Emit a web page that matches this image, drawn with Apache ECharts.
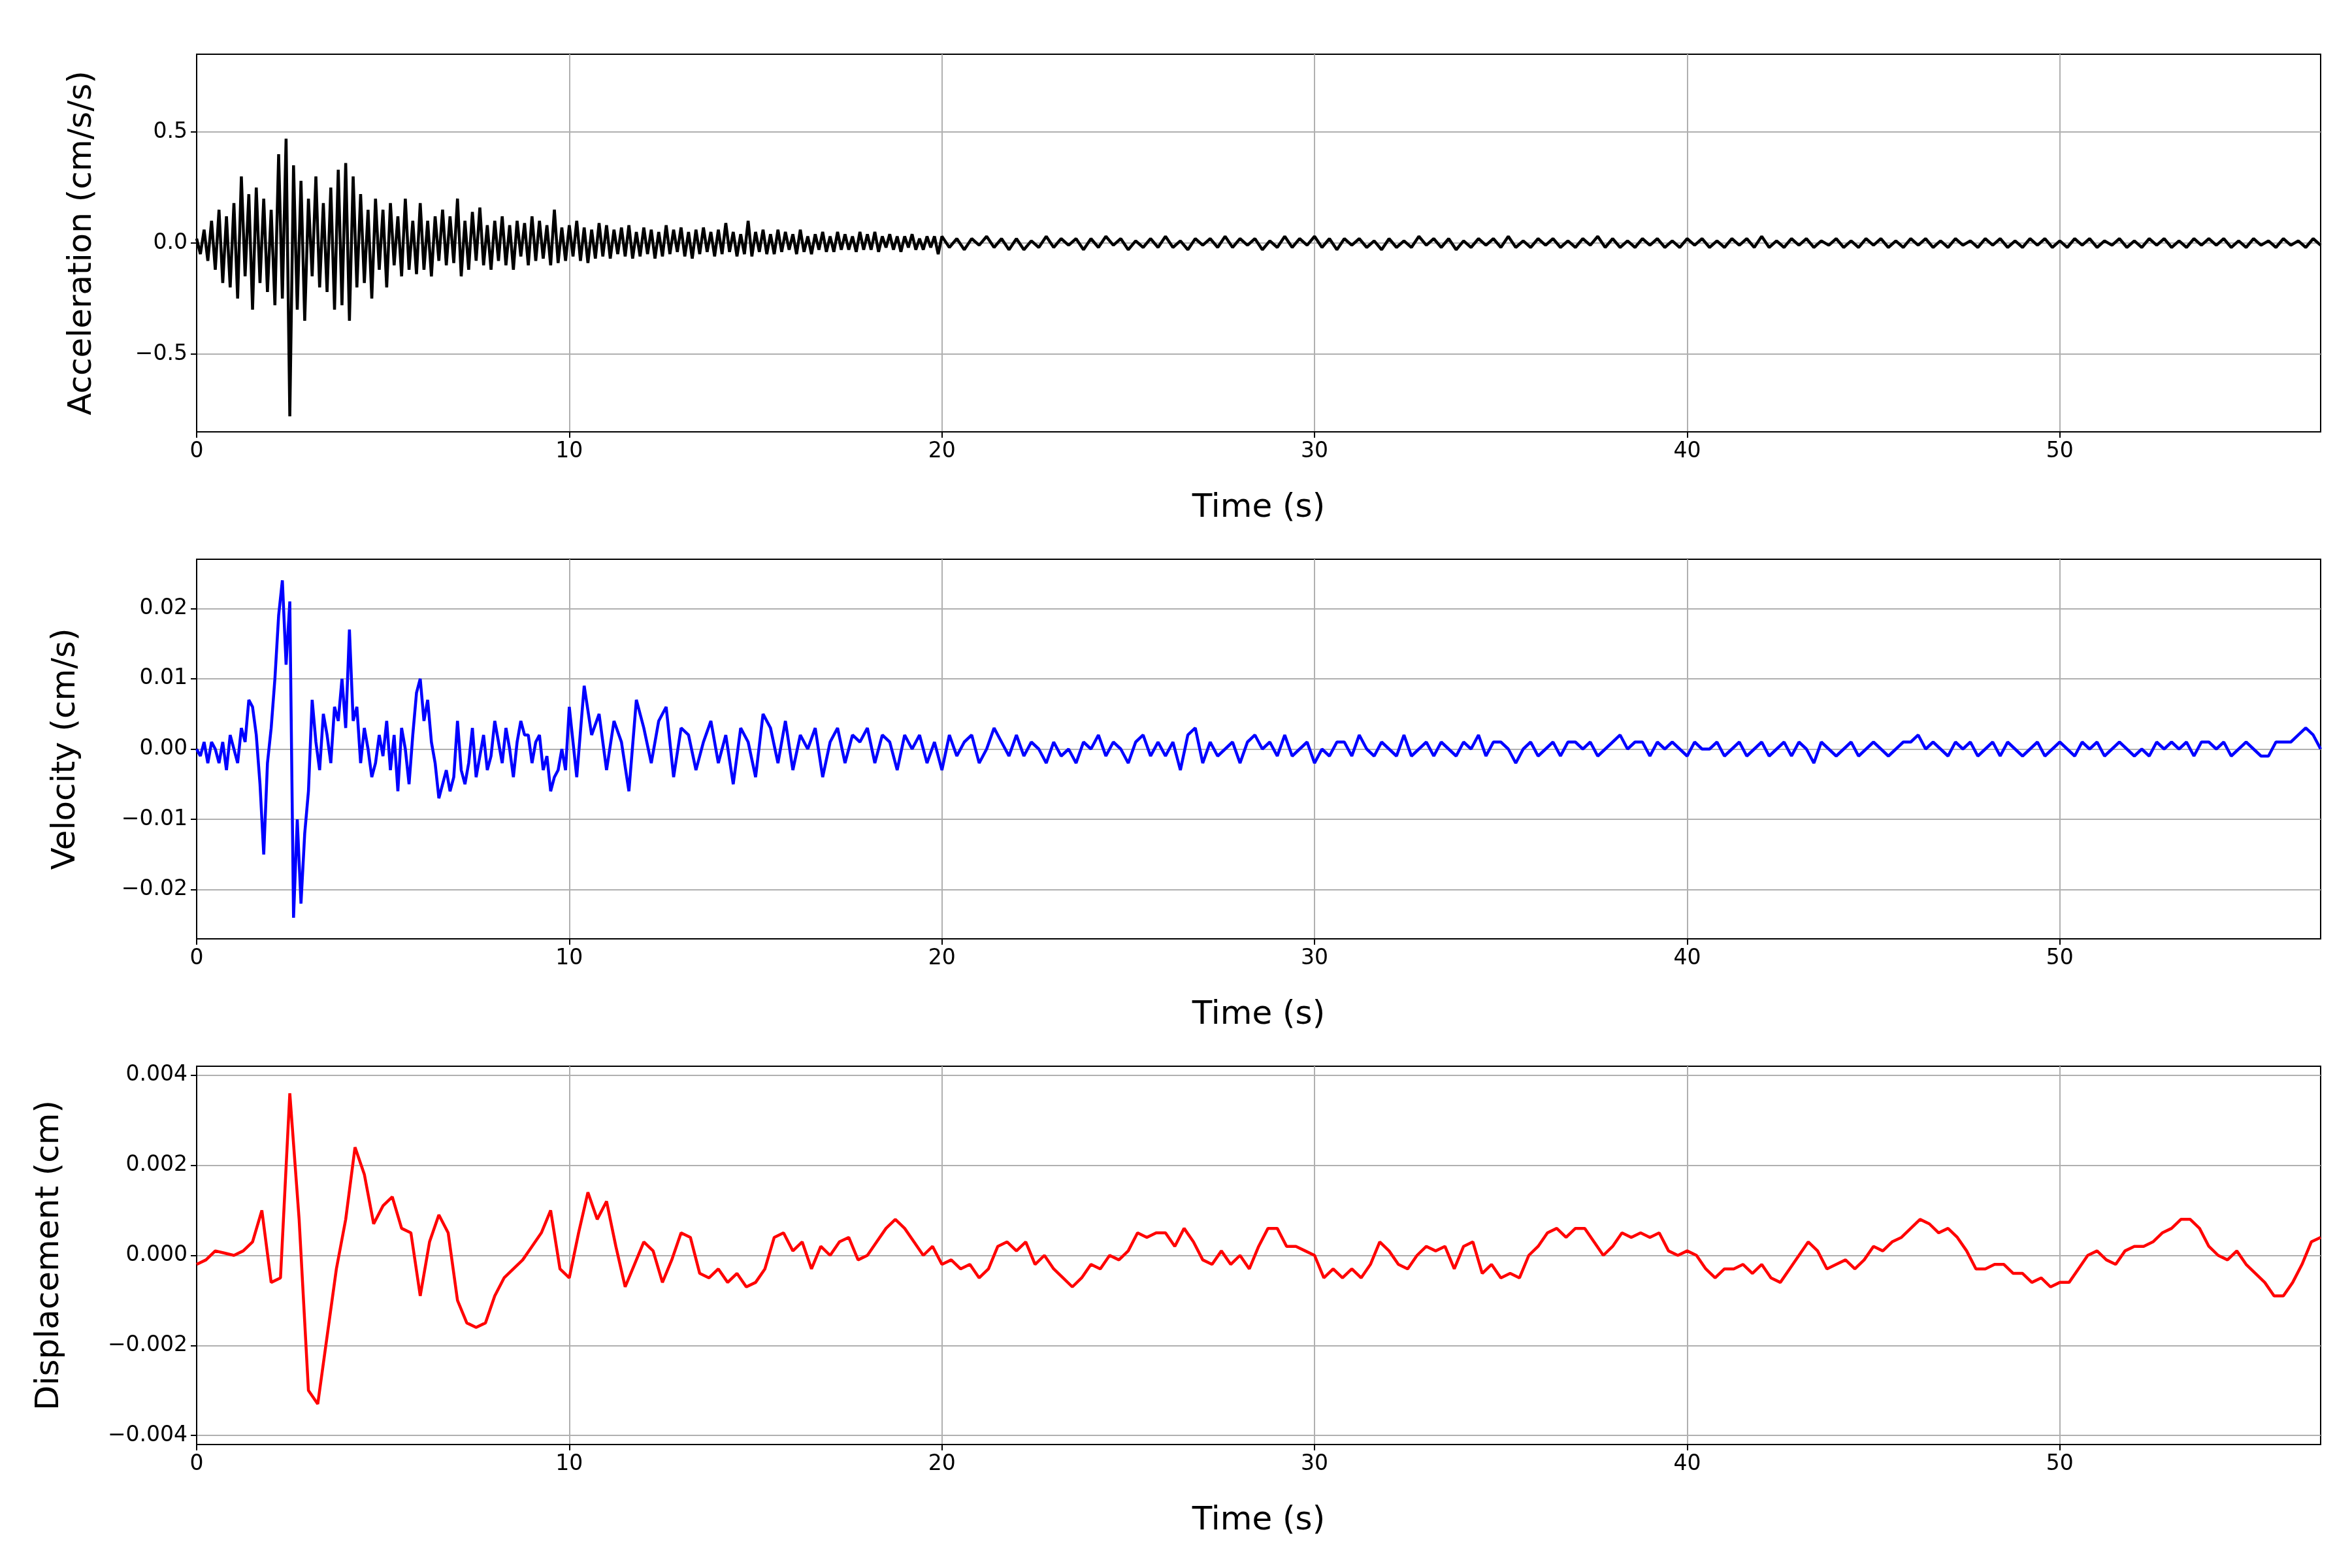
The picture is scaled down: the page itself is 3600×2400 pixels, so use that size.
<!DOCTYPE html>
<html>
<head>
<meta charset="utf-8">
<script src="https://cdn.jsdelivr.net/npm/echarts@6/dist/echarts.min.js"></script>
<style>html,body{margin:0;background:#fff}#main{width:3600px;height:2400px}</style>
</head>
<body>
<div id="main"></div>
<script>
// time axis
var tMax = 57;
var xTicks = [0, 10, 20, 30, 40, 50];

// acceleration (cm/s/s): 0-20 s every 0.1 s, then 20.2-57 s every 0.2 s
var accEarly = [
  0.02,-0.05,0.06,-0.08,0.1,-0.12,0.15,-0.18,0.12,-0.2, 0.18,-0.25,0.3,-0.15,0.22,-0.3,0.25,-0.18,0.2,-0.22,
  0.15,-0.28,0.4,-0.25,0.47,-0.78,0.35,-0.3,0.28,-0.35, 0.2,-0.15,0.3,-0.2,0.18,-0.22,0.25,-0.3,0.33,-0.28,
  0.36,-0.35,0.3,-0.2,0.22,-0.18,0.15,-0.25,0.2,-0.12, 0.15,-0.2,0.18,-0.1,0.12,-0.15,0.2,-0.12,0.1,-0.14,
  0.18,-0.12,0.1,-0.15,0.12,-0.08,0.15,-0.1,0.12,-0.09, 0.2,-0.15,0.1,-0.12,0.14,-0.08,0.16,-0.1,0.08,-0.12,
  0.1,-0.08,0.12,-0.1,0.08,-0.12,0.1,-0.06,0.09,-0.1, 0.12,-0.08,0.1,-0.07,0.08,-0.1,0.15,-0.09,0.07,-0.08,
  0.08,-0.06,0.1,-0.08,0.07,-0.09,0.06,-0.07,0.09,-0.06, 0.08,-0.07,0.06,-0.05,0.07,-0.06,0.08,-0.07,0.05,-0.06,
  0.07,-0.05,0.06,-0.07,0.05,-0.06,0.08,-0.05,0.06,-0.04, 0.07,-0.06,0.05,-0.07,0.06,-0.05,0.07,-0.04,0.05,-0.06,
  0.06,-0.05,0.09,-0.04,0.05,-0.06,0.04,-0.05,0.1,-0.06, 0.05,-0.04,0.06,-0.05,0.04,-0.05,0.06,-0.04,0.05,-0.03,
  0.04,-0.05,0.06,-0.04,0.03,-0.05,0.04,-0.03,0.05,-0.04, 0.03,-0.04,0.05,-0.03,0.04,-0.03,0.03,-0.04,0.05,-0.03,
  0.04,-0.03,0.05,-0.04,0.03,-0.02,0.04,-0.03,0.03,-0.04, 0.03,-0.02,0.04,-0.03,0.02,-0.03,0.03,-0.02,0.03,-0.05
];
var accLate = [
  0.03,-0.02,0.02,-0.03,0.02,-0.01,0.03,-0.02,0.02,-0.03, 0.02,-0.03,0.01,-0.02,0.03,-0.02,0.02,-0.01,0.02,-0.03,
  0.02,-0.02,0.03,-0.01,0.02,-0.03,0.01,-0.02,0.02,-0.02, 0.03,-0.02,0.01,-0.03,0.02,-0.01,0.02,-0.02,0.03,-0.02,
  0.02,-0.01,0.02,-0.03,0.01,-0.02,0.03,-0.02,0.02,-0.01, 0.03,-0.02,0.02,-0.03,0.02,-0.01,0.02,-0.02,0.01,-0.03,
  0.02,-0.02,0.01,-0.02,0.03,-0.01,0.02,-0.02,0.02,-0.03, 0.01,-0.02,0.02,-0.01,0.02,-0.02,0.03,-0.02,0.01,-0.02,
  0.02,-0.01,0.02,-0.02,0.01,-0.02,0.02,-0.01,0.03,-0.02, 0.02,-0.02,0.01,-0.02,0.02,-0.01,0.02,-0.02,0.01,-0.02,
  0.02,-0.01,0.02,-0.02,0.01,-0.02,0.02,-0.01,0.02,-0.02, 0.03,-0.02,0.01,-0.02,0.02,-0.01,0.02,-0.02,0.01,-0.01,
  0.02,-0.02,0.01,-0.02,0.02,-0.01,0.02,-0.02,0.01,-0.02, 0.02,-0.01,0.02,-0.02,0.01,-0.02,0.02,-0.01,0.01,-0.02,
  0.02,-0.01,0.02,-0.02,0.01,-0.02,0.02,-0.01,0.02,-0.02, 0.01,-0.02,0.02,-0.01,0.02,-0.02,0.01,-0.01,0.02,-0.02,
  0.01,-0.02,0.02,-0.01,0.02,-0.02,0.01,-0.02,0.02,-0.01, 0.02,-0.01,0.02,-0.02,0.01,-0.02,0.02,-0.01,0.01,-0.02,
  0.02,-0.01,0.01,-0.02,0.02,-0.01
];

// velocity (cm/s): 0-10 s every 0.1 s, then 10-57 s every 0.2 s
var velEarly = [
  0,-0.001,0.001,-0.002,0.001,0,-0.002,0.001,-0.003,0.002,
  0,-0.002,0.003,0.001,0.007,0.006,0.002,-0.005,-0.015,-0.002,
  0.003,0.01,0.019,0.024,0.012,0.021,-0.024,-0.01,-0.022,-0.012,
  -0.006,0.007,0.001,-0.003,0.005,0.002,-0.002,0.006,0.004,0.01,
  0.003,0.017,0.004,0.006,-0.002,0.003,0,-0.004,-0.002,0.002,
  -0.001,0.004,-0.003,0.002,-0.006,0.003,0,-0.005,0.002,0.008,
  0.01,0.004,0.007,0.001,-0.002,-0.007,-0.005,-0.003,-0.006,-0.004,
  0.004,-0.003,-0.005,-0.002,0.003,-0.004,-0.001,0.002,-0.003,-0.001,
  0.004,0.001,-0.002,0.003,0,-0.004,0.001,0.004,0.002,0.002,
  -0.002,0.001,0.002,-0.003,-0.001,-0.006,-0.004,-0.003,0,-0.003
];
var velLate = [
  0.006,-0.004,0.009,0.002,0.005,-0.003,0.004,0.001,-0.006,0.007,
  0.003,-0.002,0.004,0.006,-0.004,0.003,0.002,-0.003,0.001,0.004,
  -0.002,0.002,-0.005,0.003,0.001,-0.004,0.005,0.003,-0.002,0.004,
  -0.003,0.002,0.000,0.003,-0.004,0.001,0.003,-0.002,0.002,0.001,
  0.003,-0.002,0.002,0.001,-0.003,0.002,0.000,0.002,-0.002,0.001,
  -0.003,0.002,-0.001,0.001,0.002,-0.002,0.000,0.003,0.001,-0.001,
  0.002,-0.001,0.001,0.000,-0.002,0.001,-0.001,0.000,-0.002,0.001,
  0.000,0.002,-0.001,0.001,0.000,-0.002,0.001,0.002,-0.001,0.001,
  -0.001,0.001,-0.003,0.002,0.003,-0.002,0.001,-0.001,0.000,0.001,
  -0.002,0.001,0.002,0.000,0.001,-0.001,0.002,-0.001,0.000,0.001,
  -0.002,0.000,-0.001,0.001,0.001,-0.001,0.002,0.000,-0.001,0.001,
  0.000,-0.001,0.002,-0.001,0.000,0.001,-0.001,0.001,0.000,-0.001,
  0.001,0.000,0.002,-0.001,0.001,0.001,0.000,-0.002,0.000,0.001,
  -0.001,0.000,0.001,-0.001,0.001,0.001,0.000,0.001,-0.001,0.000,
  0.001,0.002,0.000,0.001,0.001,-0.001,0.001,0.000,0.001,0.000,
  -0.001,0.001,0.000,0.000,0.001,-0.001,0.000,0.001,-0.001,0.000,
  0.001,-0.001,0.000,0.001,-0.001,0.001,0.000,-0.002,0.001,0.000,
  -0.001,0.000,0.001,-0.001,0.000,0.001,0.000,-0.001,0.000,0.001,
  0.001,0.002,0.000,0.001,0.000,-0.001,0.001,0.000,0.001,-0.001,
  0.000,0.001,-0.001,0.001,0.000,-0.001,0.000,0.001,-0.001,0.000,
  0.001,0.000,-0.001,0.001,0.000,0.001,-0.001,0.000,0.001,0.000,
  -0.001,0.000,-0.001,0.001,0.000,0.001,0.000,0.001,-0.001,0.001,
  0.001,0.000,0.001,-0.001,0.000,0.001,0.000,-0.001,-0.001,0.001,
  0.001,0.001,0.002,0.003,0.002,0.000
];

// displacement (units of 0.001 cm), every 0.25 s from 0 to 57 s
var dispMilli = [
  -0.2,-0.1,0.1,0.05,0.0,0.1,0.3,1.0,-0.6,-0.5,3.6,0.8,-3.0,-3.3,-1.8,-0.3,0.8,2.4,1.8,0.7,
  1.1,1.3,0.6,0.5,-0.9,0.3,0.9,0.5,-1.0,-1.5,-1.6,-1.5,-0.9,-0.5,-0.3,-0.1,0.2,0.5,1.0,-0.3,
  -0.5,0.5,1.4,0.8,1.2,0.2,-0.7,-0.2,0.3,0.1,-0.6,-0.1,0.5,0.4,-0.4,-0.5,-0.3,-0.6,-0.4,-0.7,
  -0.6,-0.3,0.4,0.5,0.1,0.3,-0.3,0.2,0.0,0.3,0.4,-0.1,0.0,0.3,0.6,0.8,0.6,0.3,0.0,0.2,
  -0.2,-0.1,-0.3,-0.2,-0.5,-0.3,0.2,0.3,0.1,0.3,-0.2,0.0,-0.3,-0.5,-0.7,-0.5,-0.2,-0.3,0.0,-0.1,
  0.1,0.5,0.4,0.5,0.5,0.2,0.6,0.3,-0.1,-0.2,0.1,-0.2,0.0,-0.3,0.2,0.6,0.6,0.2,0.2,0.1,
  0.0,-0.5,-0.3,-0.5,-0.3,-0.5,-0.2,0.3,0.1,-0.2,-0.3,0.0,0.2,0.1,0.2,-0.3,0.2,0.3,-0.4,-0.2,
  -0.5,-0.4,-0.5,0.0,0.2,0.5,0.6,0.4,0.6,0.6,0.3,0.0,0.2,0.5,0.4,0.5,0.4,0.5,0.1,0.0,
  0.1,0.0,-0.3,-0.5,-0.3,-0.3,-0.2,-0.4,-0.2,-0.5,-0.6,-0.3,0.0,0.3,0.1,-0.3,-0.2,-0.1,-0.3,-0.1,
  0.2,0.1,0.3,0.4,0.6,0.8,0.7,0.5,0.6,0.4,0.1,-0.3,-0.3,-0.2,-0.2,-0.4,-0.4,-0.6,-0.5,-0.7,
  -0.6,-0.6,-0.3,0.0,0.1,-0.1,-0.2,0.1,0.2,0.2,0.3,0.5,0.6,0.8,0.8,0.6,0.2,0.0,-0.1,0.1,
  -0.2,-0.4,-0.6,-0.9,-0.9,-0.6,-0.2,0.3,0.4
];

var accTicks = [-0.5, 0, 0.5];
var velTicks = [-0.02, -0.01, 0, 0.01, 0.02];
var dispTicks = [-0.004, -0.002, 0, 0.002, 0.004];

function toPairs(arr, t0, dt, scale) {
  return arr.map(function (v, i) { return [+(t0 + i * dt).toFixed(3), v * (scale || 1)]; });
}
var accData = toPairs(accEarly, 0, 0.1).concat(toPairs(accLate, 20, 0.2));
var velData = toPairs(velEarly, 0, 0.1).concat(toPairs(velLate, 10, 0.2));
var dispData = toPairs(dispMilli, 0, 0.25, 0.001);

var font = 'DejaVu Sans';
function minus(s) { return s.replace('-', '\u2212'); }

var tops = [83, 856, 1632];
var heights = [578, 581, 579];

function xAxisFor(i) {
  return {
    type: 'value', gridIndex: i, min: 0, max: tMax, interval: 10,
    name: 'Time (s)', nameLocation: 'middle', nameGap: 92,
    nameTextStyle: { fontFamily: font, fontSize: 50, color: '#000' },
    axisLine: { show: true, onZero: false, lineStyle: { color: '#000', width: 2 } },
    axisTick: { show: true, length: 9, customValues: xTicks, lineStyle: { color: '#000', width: 2 } },
    axisLabel: { fontFamily: font, fontSize: 33, color: '#000', margin: 14, customValues: xTicks },
    splitLine: { show: true, lineStyle: { color: '#b0b0b0', width: 2 } }
  };
}
function yAxisFor(i, name, lim, ticks, dec, gap) {
  return {
    type: 'value', gridIndex: i, min: -lim, max: lim,
    name: name, nameLocation: 'middle', nameGap: gap,
    nameTextStyle: { fontFamily: font, fontSize: 50, color: '#000' },
    axisLine: { show: true, lineStyle: { color: '#000', width: 2 } },
    axisTick: { show: true, length: 9, customValues: ticks, lineStyle: { color: '#000', width: 2 } },
    axisLabel: { fontFamily: font, fontSize: 33, color: '#000', margin: 14, customValues: ticks,
      formatter: function (v) { return minus(v.toFixed(dec)); } },
    splitLine: { show: true, lineStyle: { color: '#b0b0b0', width: 2 } }
  };
}

var chart = echarts.init(document.getElementById('main'), null, { renderer: 'canvas' });
chart.setOption({
  backgroundColor: '#fff',
  animation: false,
  grid: tops.map(function (t, i) {
    return { left: 301, right: 48, top: t, height: heights[i], show: true,
      borderColor: '#000', borderWidth: 2, backgroundColor: 'transparent' };
  }),
  xAxis: [xAxisFor(0), xAxisFor(1), xAxisFor(2)],
  yAxis: [
    yAxisFor(0, 'Acceleration (cm/s/s)', 0.85, accTicks, 1, 150),
    yAxisFor(1, 'Velocity (cm/s)', 0.027, velTicks, 2, 175),
    yAxisFor(2, 'Displacement (cm)', 0.0042, dispTicks, 3, 200)
  ],
  series: [
    { type: 'line', xAxisIndex: 0, yAxisIndex: 0, data: accData, showSymbol: false,
      lineStyle: { color: '#000', width: 4.5 } },
    { type: 'line', xAxisIndex: 1, yAxisIndex: 1, data: velData, showSymbol: false,
      lineStyle: { color: '#0000ff', width: 4.5 } },
    { type: 'line', xAxisIndex: 2, yAxisIndex: 2, data: dispData, showSymbol: false,
      lineStyle: { color: '#ff0000', width: 4.5 } }
  ]
});
</script>
</body>
</html>
